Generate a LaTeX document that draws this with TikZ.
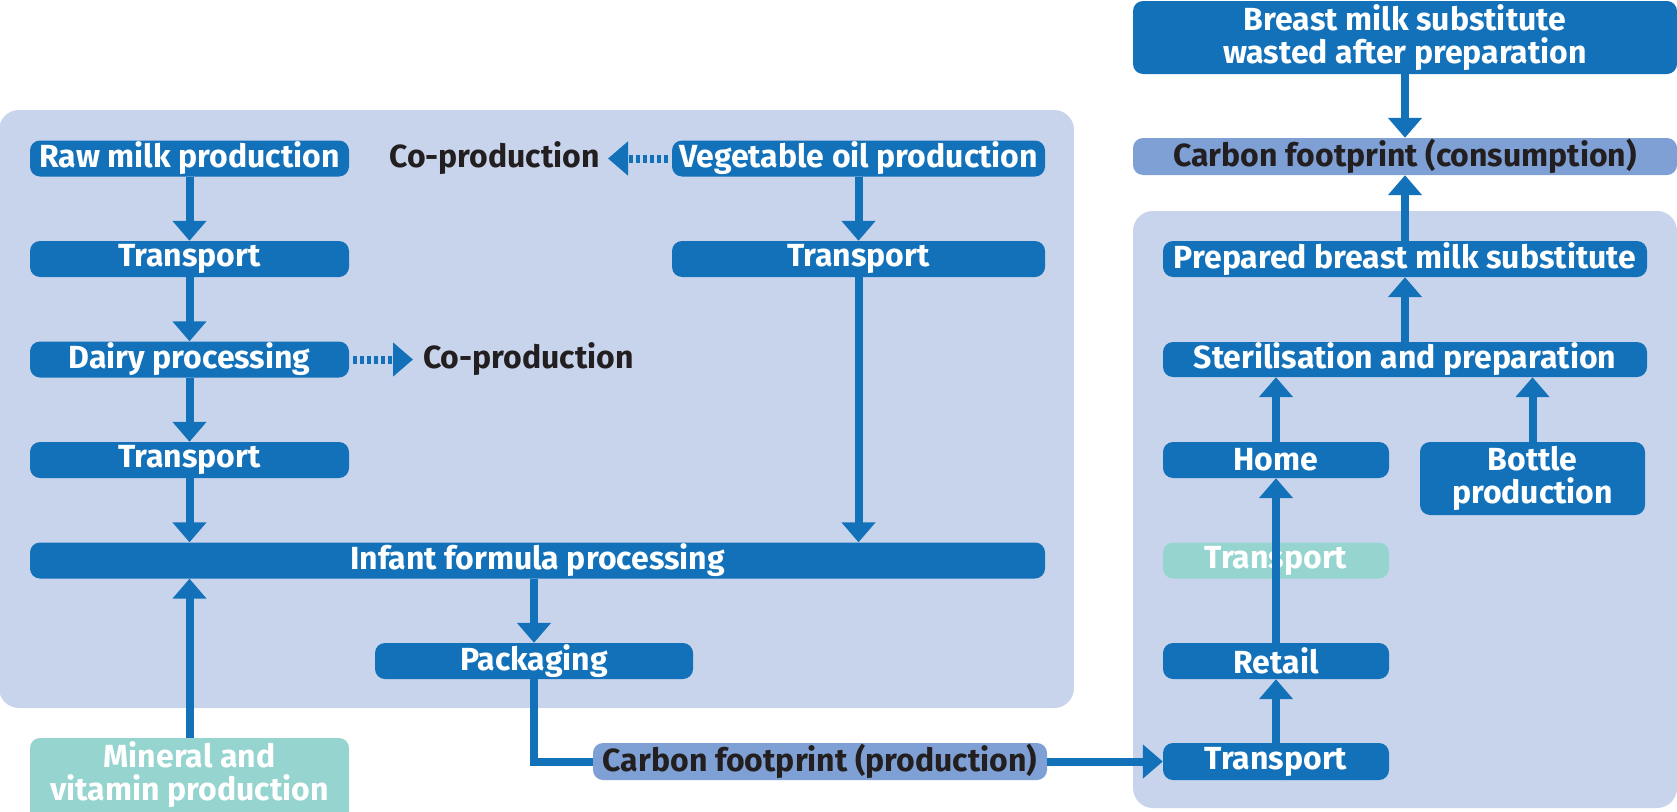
\documentclass[tikz,border=0pt]{standalone}
\usepackage{fontspec}
\setmainfont{Fira Sans}
\usetikzlibrary{arrows.meta}
\definecolor{dblue}{RGB}{18,113,185}
\definecolor{panelbg}{RGB}{200,212,236}
\definecolor{cfp}{RGB}{127,160,212}
\definecolor{tealbox}{RGB}{150,213,207}
\definecolor{ink}{RGB}{35,31,32}
\begin{document}
\begin{tikzpicture}[x=1pt,y=-1pt,
  txt/.style={font=\fontsize{32}{33}\selectfont\bfseries, align=center},
  box/.style={txt, fill=dblue, text=white, rounded corners=10pt, inner sep=0pt, minimum height=36pt},
  cfbox/.style={box, fill=cfp, text=ink},
  fadebox/.style={box, fill=tealbox},
  plain/.style={txt, text=ink, inner sep=0pt},
  panel/.style={fill=panelbg, rounded corners=20pt},
  arr/.style={draw=dblue, line width=8pt, -{Triangle[length=20pt,width=33pt]}},
  conn/.style={draw=dblue, line width=8pt},
  dotarr/.style={draw=dblue, line width=8pt, dash pattern=on 4pt off 3pt, -{Triangle[length=20pt,width=33pt]}}
]
\useasboundingbox (0,0) rectangle (1677,811);
\clip (0,0) rectangle (1677,811);
% panels
\fill[panel] (-1,110) rectangle (1074,708);
\fill[panel] (1133,211) rectangle (1677,808);

% left panel nodes
\node[box, minimum width=319pt] (raw) at (189.5,158.5) {Raw milk production};
\node[box, minimum width=319pt] (t1) at (189.5,259) {Transport};
\node[box, minimum width=319pt] (dairy) at (189.5,359.5) {Dairy processing};
\node[box, minimum width=319pt] (t2) at (189.5,460) {Transport};
\node[box, minimum width=373pt] (veg) at (858.5,158.5) {Vegetable oil production};
\node[box, minimum width=373pt] (t3) at (858.5,259) {Transport};
\node[box, minimum width=1015pt] (infant) at (537.5,560.5) {Infant formula processing};
\node[box, minimum width=318pt] (pack) at (534,661) {Packaging};
\node[plain, anchor=east] (cop1) at (600,158.5) {Co-production};
\node[plain, anchor=west] (cop2) at (423,359.5) {Co-production};
\node[fadebox, minimum width=319pt, minimum height=87pt] (mineral) at (189.5,781.5) {};
\node[txt, text=white, inner sep=0pt] (mineraltext) at (189.5,775) {Mineral and\\vitamin production};
\node[cfbox, minimum width=454pt, minimum height=37pt] (cprod) at (820,761.5) {Carbon footprint (production)};

% right side nodes
\node[box, minimum width=226pt, minimum height=37pt] (tr) at (1276,761.5) {Transport};
\node[box, minimum width=226pt] (retail) at (1276,661) {Retail};
\node[fadebox, minimum width=226pt] (tfade) at (1276,560.5) {Transport};
\node[box, minimum width=226pt] (home) at (1276,460) {Home};
\node[box, minimum width=225pt, minimum height=73pt] (bottle) at (1532.5,478.5) {Bottle\\production};
\node[box, minimum width=484pt, minimum height=35pt] (steril) at (1405,359.5) {Sterilisation and preparation};
\node[box, minimum width=484pt] (prep) at (1405,259) {Prepared breast milk substitute};
\node[cfbox, minimum width=544pt, minimum height=37pt] (ccons) at (1405,156.5) {Carbon footprint (consumption)};
\node[box, minimum width=544pt, minimum height=73pt] (waste) at (1405,37.5) {Breast milk substitute\\wasted after preparation};

% connectors
\draw[arr] (raw.south) -- (t1.north);
\draw[arr] (t1.south) -- (dairy.north);
\draw[arr] (dairy.south) -- (t2.north);
\draw[arr] (t2.south) -- (t2.south |- infant.north);
\draw[arr] (mineral.north) -- (mineral.north |- infant.south);
\draw[arr] (veg.south) -- (t3.north);
\draw[arr] (t3.south) -- (t3.south |- infant.north);
\draw[arr] (infant.south -| pack.north) -- (pack.north);
\draw[conn] (pack.south) -- (pack.south |- cprod.west) -- (cprod.west);
\draw[arr] (cprod.east) -- (tr.west);
\draw[arr] (tr.north) -- (retail.south);
\draw[arr] (retail.north) -- (home.south);
\draw[arr] (home.north) -- (home.north |- steril.south);
\draw[arr] (bottle.north) -- (bottle.north |- steril.south);
\draw[arr] (steril.north) -- (prep.south);
\draw[arr] (prep.north) -- (ccons.south);
\draw[arr] (waste.south) -- (ccons.north);
\draw[dotarr] ([xshift=-4pt]veg.west) -- ([xshift=8pt]cop1.east);
\draw[dotarr] ([xshift=4pt]dairy.east) -- ([xshift=-10pt]cop2.west);
\end{tikzpicture}
\end{document}
